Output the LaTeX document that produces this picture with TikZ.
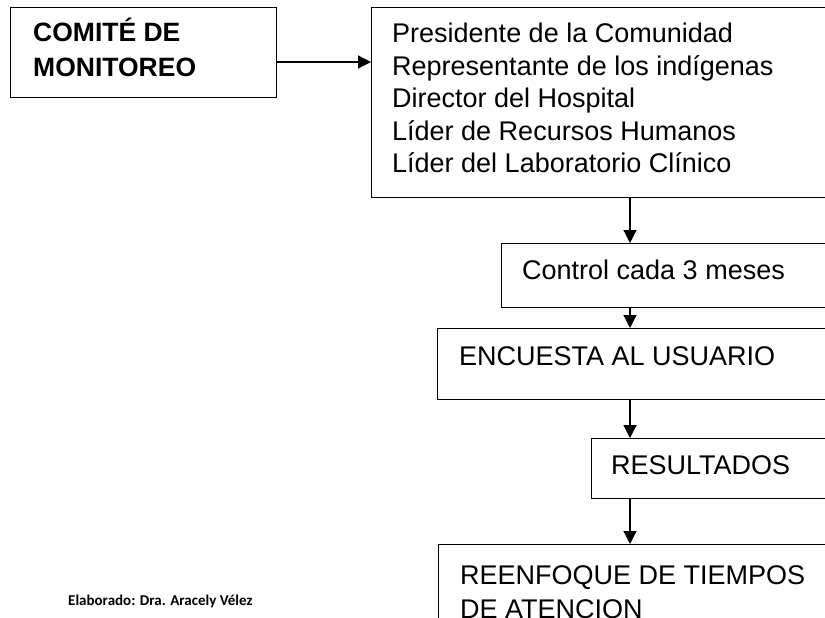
\documentclass[tikz,border=0pt]{standalone}
\usepackage{fontspec}
\setmainfont{Liberation Sans}
\newfontfamily\carlito{Carlito}
\usetikzlibrary{arrows.meta}
\begin{document}
\begin{tikzpicture}[x=1pt,y=-1pt,
  box/.style={draw, line width=1.2pt, inner sep=0pt, anchor=north west},
  lbl/.style={anchor=base west, inner sep=0pt, font=\fontsize{27}{31}\selectfont},
  conn/.style={line width=1.2pt, -{Triangle[length=13pt,width=13pt]}}]
\useasboundingbox (0,0) rectangle (825,618);
\fill[white] (0,0) rectangle (825,618);
\clip (0,0) rectangle (825,618);
% boxes
\node[box, minimum width=266pt, minimum height=90pt] (b1) at (10,7) {};
\node[box, minimum width=469pt, minimum height=190pt] (b2) at (371,7) {};
\node[box, minimum width=339pt, minimum height=64pt] (b3) at (501,243) {};
\node[box, minimum width=403pt, minimum height=71pt] (b4) at (437,328) {};
\node[box, minimum width=249pt, minimum height=60pt] (b5) at (591,438) {};
\node[box, minimum width=402pt, minimum height=100pt] (b6) at (438,544) {};
% texts
\node[lbl, font=\fontsize{26.5}{30}\selectfont\bfseries] (t1a) at (33,42) {COMITÉ DE};
\node[lbl, font=\fontsize{26.5}{30}\selectfont\bfseries] (t1b) at (33,77) {MONITOREO};
\node[lbl] (t2a) at (392,42.5) {Presidente de la Comunidad};
\node[lbl] (t2b) at (392,75) {Representante de los indígenas};
\node[lbl] (t2c) at (392,107.5) {Director del Hospital};
\node[lbl] (t2d) at (392,140) {Líder de Recursos Humanos};
\node[lbl] (t2e) at (392,172.5) {Líder del Laboratorio Clínico};
\node[lbl] (t3) at (522,279) {Control cada 3 meses};
\node[lbl] (t4) at (459,365) {ENCUESTA AL USUARIO};
\node[lbl] (t5) at (611,474) {RESULTADOS};
\node[lbl] (t6a) at (460,584) {REENFOQUE DE TIEMPOS};
\node[lbl] (t6b) at (460,618) {DE ATENCION};
\node[anchor=base west, inner sep=0pt, font=\carlito\bfseries\fontsize{15}{18}\selectfont] (el) at (68,605) {Elaborado: Dra. Aracely Vélez};
% connectors
\coordinate (ax) at (630,0);
\draw[conn] ([yshift=-55pt]b1.north east) -- ([yshift=-55pt]b1.north east -| b2.west);
\draw[conn] (ax |- b2.south) -- (ax |- b3.north);
\draw[conn] (ax |- b3.south) -- (ax |- b4.north);
\draw[conn] (ax |- b4.south) -- (ax |- b5.north);
\draw[conn] (ax |- b5.south) -- (ax |- b6.north);
\end{tikzpicture}
\end{document}
